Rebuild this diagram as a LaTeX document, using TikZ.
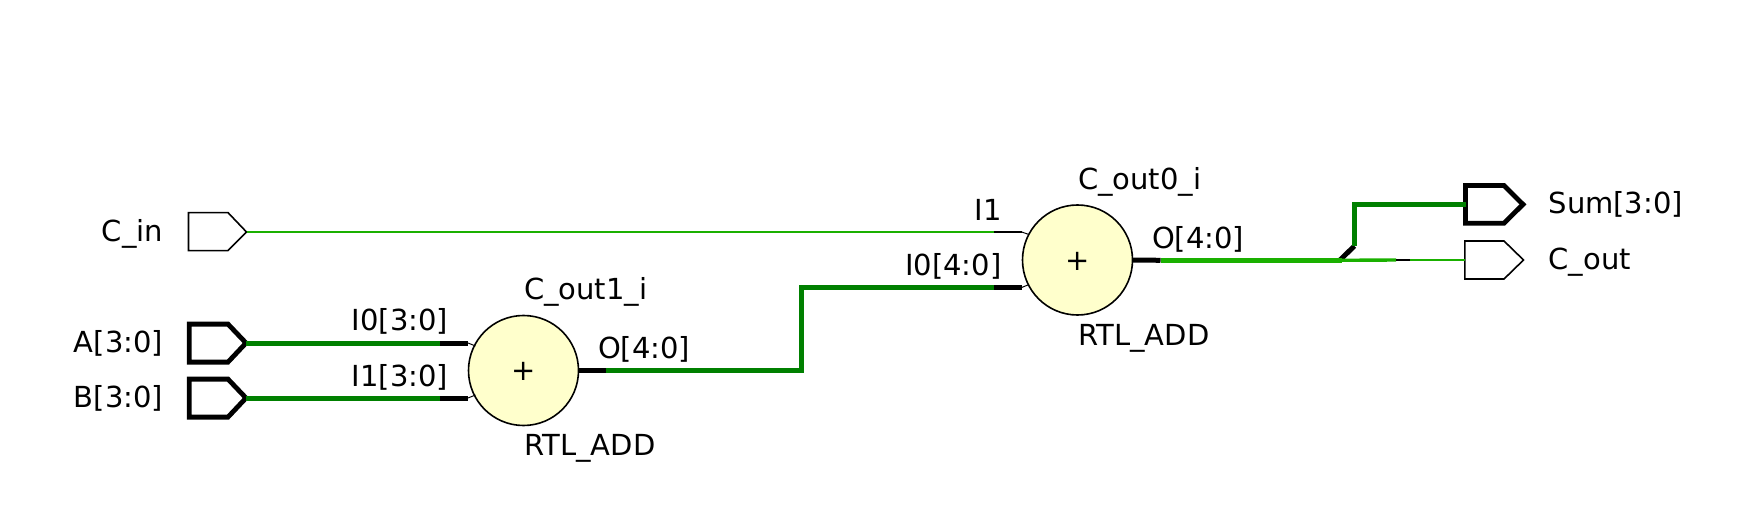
\documentclass[tikz,border=0pt]{standalone}
\usepackage{fontspec}
\setmainfont{DejaVu Sans}
\definecolor{dkgreen}{RGB}{0,128,0}
\definecolor{brgreen}{RGB}{26,176,0}
\definecolor{adderfill}{RGB}{255,255,204}
\tikzset{x=1bp,y=-1bp,
  lbl/.style={inner sep=0pt,outer sep=0pt,font=\fontsize{29bp}{30bp}\selectfont,text=black},
  adder/.style={circle,draw=black,line width=1.6bp,fill=adderfill,minimum size=110bp,inner sep=0pt,outer sep=0pt},
  portthin/.style={draw=black,line width=1.6bp,fill=white,line join=miter},
  portthick/.style={draw=black,line width=4.8bp,fill=white,line join=miter},
  busg/.style={draw=dkgreen,line width=5bp},
  busk/.style={draw=black,line width=5bp},
  busb/.style={draw=brgreen,line width=5bp},
  medb/.style={draw=brgreen,line width=3.4bp},
  thing/.style={draw=brgreen,line width=2bp},
  think/.style={draw=black,line width=2.6bp},
  stub/.style={draw=black,line width=1bp},
}
\begin{document}
\begin{tikzpicture}
\useasboundingbox (0,0) rectangle (1755,514);
% ports
\coordinate (cinT) at (246.5,232);
\coordinate (aT) at (246,343);
\coordinate (bT) at (246,398);
\coordinate (sumL) at (1465.5,204.4);
\coordinate (coutL) at (1464.8,260);
\path[portthin] (188.5,212.6) -- (228,212.6) -- (cinT) -- (228,250.6) -- (188.5,250.6) -- cycle;
\path[portthick] (189.3,324.1) -- (228,324.1) -- (aT) -- (228,362.1) -- (189.3,362.1) -- cycle;
\path[portthick] (189.3,379.1) -- (228,379.1) -- (bT) -- (228,417.1) -- (189.3,417.1) -- cycle;
\path[portthick] (sumL) -- (1465.5,185.6) -- (1504,185.6) -- (1523,204.4) -- (1504,223.2) -- (1465.5,223.2) -- cycle;
\path[portthin] (coutL) -- (1464.8,241) -- (1504,241) -- (1523.5,260) -- (1504,279) -- (1464.8,279) -- cycle;
% adders
\node[adder] (add1) at (523.5,370.5) {};
\node[adder] (add2) at (1077.5,260) {};
\node[lbl] (plus1) at (523.3,371) {+};
\node[lbl] (plus2) at (1077.5,261) {+};
% waypoints
\coordinate (a1) at (440,343); \coordinate (a2) at (468,343); \coordinate (a3) at (475.5,346);
\coordinate (b1) at (440,398); \coordinate (b2) at (468,398); \coordinate (b3) at (475.5,395);
\coordinate (c1) at (994,232); \coordinate (c2) at (1021.7,232); \coordinate (c3) at (1029,234.5);
\coordinate (o1) at (606,370.5);
\coordinate (m1) at (801,370.5); \coordinate (m2) at (801,287.5);
\coordinate (m3) at (994,287.5); \coordinate (m4) at (1021.7,287.5); \coordinate (m5) at (1029,284.5);
\coordinate (p1) at (1160.5,260.3); \coordinate (p2) at (1341.5,260.3);
\coordinate (q1) at (1396,260); \coordinate (q2) at (1410,260);
\coordinate (d1) at (1354.4,246); \coordinate (d2) at (1354.4,204.4);
\coordinate (d0) at (1340,260);
% wires
\draw[thing] (cinT) -- (c1);
\draw[think] (c1) -- (c2);
\draw[stub] (c2) -- (c3);
\draw[busg] (aT) -- (a1);
\draw[busk] (a1) -- (a2);
\draw[stub] (a2) -- (a3);
\draw[busg] (bT) -- (b1);
\draw[busk] (b1) -- (b2);
\draw[stub] (b2) -- (b3);
\draw[busk] (add1.east) -- (o1);
\draw[busg,line join=miter] (o1) -- (m1) -- (m2) -- (m3);
\draw[busk] (m3) -- (m4);
\draw[stub] (m4) -- (m5);
\draw[busk] (d0) -- (d1);
\draw[busg,line join=miter] (d1) -- (d2) -- (sumL);
\draw[busk] (add2.east) -- (p1);
\draw[medb] (p2) -- (q1);
\draw[think] (q1) -- (q2);
\draw[thing] (q2) -- (coutL);
\draw[busb] (p1) -- (p2);
% labels
\node[lbl,anchor=base east] (tcin) at (163,241.7) {C\_in};
\node[lbl,anchor=base east] (ta) at (163,352.7) {A[3:0]};
\node[lbl,anchor=base east] (tb) at (163,407.7) {B[3:0]};
\node[lbl,anchor=base east] (ti0) at (448,331) {I0[3:0]};
\node[lbl,anchor=base east] (ti1) at (448,386) {I1[3:0]};
\node[lbl,anchor=base west] (tn1) at (524,300) {C\_out1\_i};
\node[lbl,anchor=base west] (to1) at (598,358.3) {O[4:0]};
\node[lbl,anchor=base west] (tr1) at (524.4,455.7) {RTL\_ADD};
\node[lbl,anchor=base west] (tn2) at (1078,189.3) {C\_out0\_i};
\node[lbl,anchor=base east] (ti2) at (1001.5,220.7) {I1};
\node[lbl,anchor=base east] (ti3) at (1001.5,275.7) {I0[4:0]};
\node[lbl,anchor=base west] (to2) at (1152,248.3) {O[4:0]};
\node[lbl,anchor=base west] (tr2) at (1078.4,345.7) {RTL\_ADD};
\node[lbl,anchor=base west] (tsum) at (1548.6,213.3) {Sum[3:0]};
\node[lbl,anchor=base west] (tcout) at (1548.6,269.3) {C\_out};
\end{tikzpicture}
\end{document}
